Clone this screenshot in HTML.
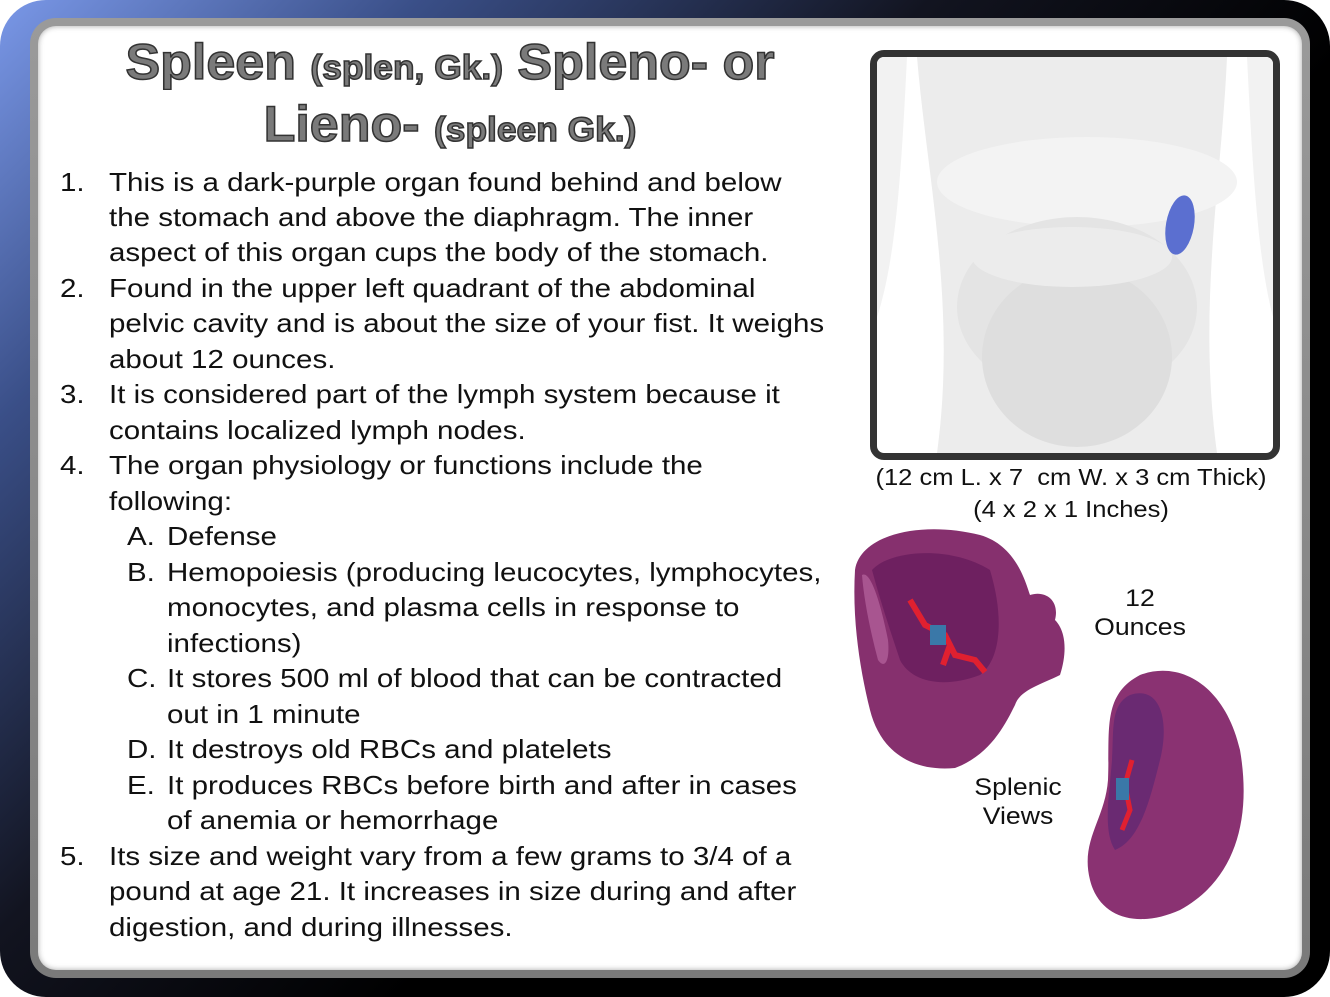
<!DOCTYPE html>
<html><head><meta charset="utf-8">
<style>
html,body{margin:0;padding:0;background:#fff;}
#slide{position:relative;width:1330px;height:997px;overflow:hidden;font-family:"Liberation Sans",Arial,sans-serif;background:#fff;}
.t{position:absolute;white-space:nowrap;color:#111;font-size:26px;line-height:30px;transform:scaleX(1.135);transform-origin:0 0;}
.title{position:absolute;white-space:nowrap;font-weight:bold;color:#7a7a7a;-webkit-text-stroke:1.5px #333;text-align:center;transform:scaleX(1.04);transform-origin:450px 0;}
.cap{position:absolute;white-space:nowrap;color:#111;font-size:23px;line-height:26px;text-align:center;transform:scaleX(1.11);}
</style></head><body>
<div id="slide">
  <div style="position:absolute;left:0;top:0;width:1330px;height:997px;border-radius:46px;background:linear-gradient(135deg,#7a98e8 0%,#3a4f88 18%,#121420 40%,#000 60%,#000 100%);"></div>
  <div style="position:absolute;left:30px;top:18px;width:1280px;height:960px;border-radius:26px;background:linear-gradient(180deg,#9a9a9a,#7a7a7a);"></div>
  <div style="position:absolute;left:38px;top:26px;width:1264px;height:944px;border-radius:18px;background:#fff;box-shadow:inset 0 0 6px rgba(0,0,0,0.35);"></div>

  <div class="title" style="left:0;width:900px;top:34px;font-size:50px;line-height:56px;">Spleen <span style="font-size:34px;">(splen, Gk.)</span> Spleno- or</div>
  <div class="title" style="left:0;width:900px;top:96px;font-size:50px;line-height:56px;">Lieno- <span style="font-size:34px;">(spleen Gk.)</span></div>

  <div>
    <div class="t" style="left:60px;top:167px;">1.</div>
    <div class="t" style="left:109px;top:167px;">This is a dark-purple organ found behind and below</div>
    <div class="t" style="left:109px;top:202px;">the stomach and above the diaphragm. The inner</div>
    <div class="t" style="left:109px;top:237px;">aspect of this organ cups the body of the stomach.</div>
    <div class="t" style="left:60px;top:273px;">2.</div>
    <div class="t" style="left:109px;top:273px;">Found in the upper left quadrant of the abdominal</div>
    <div class="t" style="left:109px;top:308px;">pelvic cavity and is about the size of your fist. It weighs</div>
    <div class="t" style="left:109px;top:344px;">about 12 ounces.</div>
    <div class="t" style="left:60px;top:379px;">3.</div>
    <div class="t" style="left:109px;top:379px;">It is considered part of the lymph system because it</div>
    <div class="t" style="left:109px;top:415px;">contains localized lymph nodes.</div>
    <div class="t" style="left:60px;top:450px;">4.</div>
    <div class="t" style="left:109px;top:450px;">The organ physiology or functions include the</div>
    <div class="t" style="left:109px;top:486px;">following:</div>
    <div class="t" style="left:127px;top:521px;">A.</div>
    <div class="t" style="left:167px;top:521px;">Defense</div>
    <div class="t" style="left:127px;top:557px;">B.</div>
    <div class="t" style="left:167px;top:557px;">Hemopoiesis (producing leucocytes, lymphocytes,</div>
    <div class="t" style="left:167px;top:592px;">monocytes, and plasma cells in response to</div>
    <div class="t" style="left:167px;top:628px;">infections)</div>
    <div class="t" style="left:127px;top:663px;">C.</div>
    <div class="t" style="left:167px;top:663px;">It stores 500 ml of blood that can be contracted</div>
    <div class="t" style="left:167px;top:699px;">out in 1 minute</div>
    <div class="t" style="left:127px;top:734px;">D.</div>
    <div class="t" style="left:167px;top:734px;">It destroys old RBCs and platelets</div>
    <div class="t" style="left:127px;top:770px;">E.</div>
    <div class="t" style="left:167px;top:770px;">It produces RBCs before birth and after in cases</div>
    <div class="t" style="left:167px;top:805px;">of anemia or hemorrhage</div>
    <div class="t" style="left:60px;top:841px;">5.</div>
    <div class="t" style="left:109px;top:841px;">Its size and weight vary from a few grams to 3/4 of a</div>
    <div class="t" style="left:109px;top:876px;">pound at age 21. It increases in size during and after</div>
    <div class="t" style="left:109px;top:912px;">digestion, and during illnesses.</div>
  </div>

  <div style="position:absolute;left:870px;top:50px;width:396px;height:396px;border:7px solid #333;border-radius:14px;background:#fff;overflow:hidden;">
    <svg width="396" height="396">
      <path d="M40,0 L350,0 C345,120 320,250 340,396 L60,396 C80,250 50,120 40,0Z" fill="#ececec"/>
      <path d="M0,0 L30,0 C25,100 20,200 0,260Z" fill="#f2f2f2"/>
      <path d="M396,0 L370,0 C375,100 380,200 396,260Z" fill="#f2f2f2"/>
      <ellipse cx="210" cy="125" rx="150" ry="45" fill="#f3f3f3"/>
      <ellipse cx="200" cy="250" rx="120" ry="90" fill="#e4e4e4"/>
      <ellipse cx="200" cy="300" rx="95" ry="90" fill="#dedede"/>
      <ellipse cx="195" cy="200" rx="100" ry="30" fill="#ececec"/>
      <ellipse cx="303" cy="168" rx="14" ry="30" fill="#5b6fd0" transform="rotate(10 303 168)"/>
    </svg>
  </div>
  <div class="cap" style="left:860px;width:422px;top:464px;">(12 cm L. x 7&nbsp; cm W. x 3 cm Thick)</div>
  <div class="cap" style="left:860px;width:422px;top:496px;">(4 x 2 x 1 Inches)</div>

  <svg style="position:absolute;left:840px;top:510px;" width="420" height="420">
    <path d="M15,60 C20,25 80,10 140,25 C175,35 185,70 190,85 C205,80 220,90 215,110 C225,120 228,140 220,165 C200,175 180,180 175,195 C165,215 150,245 115,258 C70,262 40,240 30,200 C20,160 12,110 15,60Z" fill="#86306e"/>
    <path d="M32,60 C50,40 110,35 150,60 C165,110 160,150 140,165 C100,180 70,170 60,150 C50,120 40,90 32,60Z" fill="#6e2060"/>
    <path d="M22,65 C30,60 40,90 48,130 C50,150 45,160 38,150 C30,120 24,90 22,65Z" fill="#a85590"/>
    <path d="M70,90 L85,115 L105,125 L115,145 L135,150 L145,162 M110,135 L103,155" stroke="#e02030" stroke-width="6" fill="none"/>
    <rect x="90" y="115" width="16" height="20" fill="#3a78a8"/>
    <path d="M300,165 C340,150 385,175 400,240 C412,310 395,370 340,400 C300,418 260,410 250,370 C240,330 265,310 268,270 C270,220 262,185 300,165Z" fill="#8a3272"/>
    <path d="M290,185 C320,175 330,210 320,250 C310,290 300,330 275,340 C262,320 270,280 272,250 C274,220 270,195 290,185Z" fill="#6a2a72"/>
    <path d="M292,250 L285,275 L290,300 L282,320" stroke="#e02030" stroke-width="5" fill="none"/>
    <rect x="276" y="268" width="13" height="22" fill="#3a78a8"/>
  </svg>
  <div class="cap" style="left:1080px;width:120px;top:586px;font-size:24px;">12<br><span style="line-height:32px;">Ounces</span></div>
  <div class="cap" style="left:958px;width:120px;top:775px;font-size:24px;">Splenic<br><span style="line-height:32px;">Views</span></div>
</div>
</body></html>
